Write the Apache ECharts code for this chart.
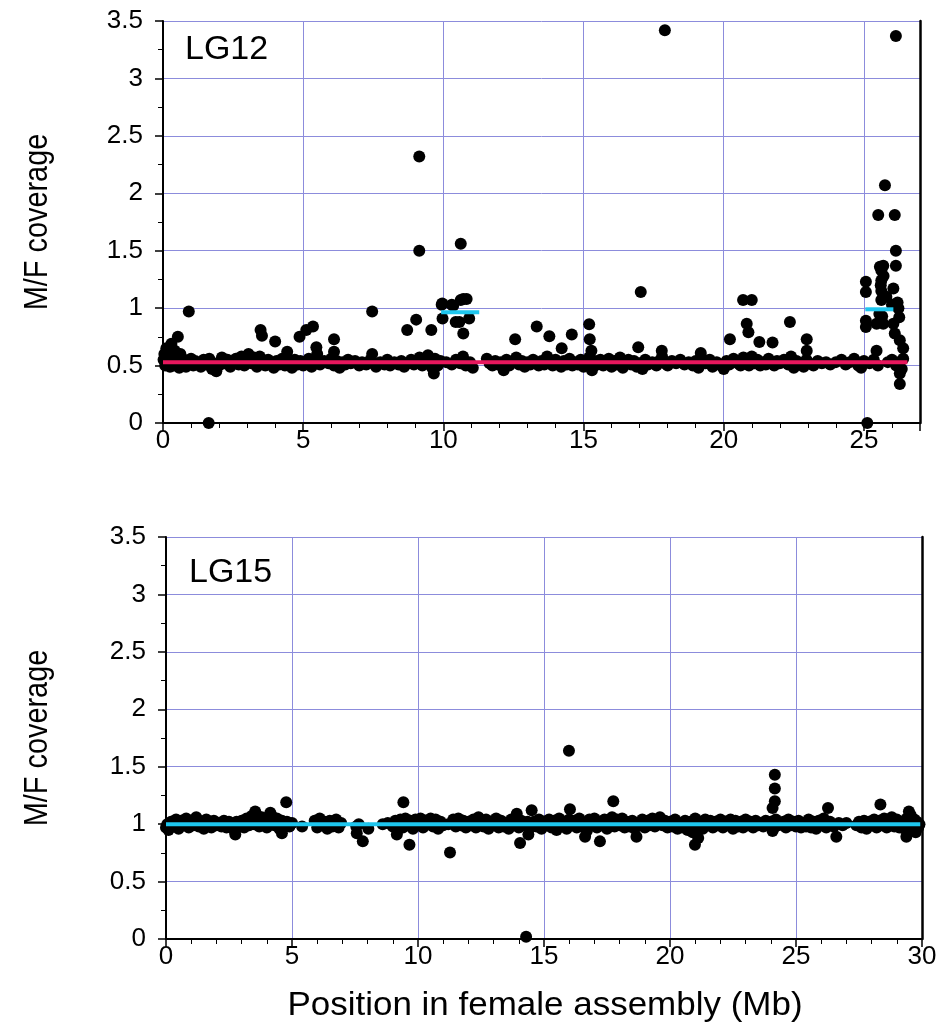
<!DOCTYPE html>
<html>
<head>
<meta charset="utf-8">
<script src="https://cdn.jsdelivr.net/npm/echarts@6/dist/echarts.min.js"></script>
<style>html,body{margin:0;padding:0;background:#fff}#c{width:947px;height:1031px}</style>
</head>
<body>
<div id="c"></div>
<script>
// ---------- DATA ----------
const yTicks = [0, 0.5, 1, 1.5, 2, 2.5, 3, 3.5];
const xTicksLG12 = [0, 5, 10, 15, 20, 25];
const xTicksLG15 = [0, 5, 10, 15, 20, 25, 30];
const panelLabels = ['LG12', 'LG15'];
const yTitle = 'M/F coverage';
const xTitle = 'Position in female assembly (Mb)';

// LG12 bulk windows (Mb, M/F)
const lg12Band = [
[0.02,0.55],[0.05,0.6],[0.08,0.5],[0.12,0.58],[0.15,0.52],[0.2,0.62],[0.25,0.49],[0.28,0.56],[0.33,0.6],[0.38,0.5],
[0.42,0.63],[0.47,0.54],[0.52,0.58],[0.58,0.48],[0.62,0.6],[0.68,0.52],[0.75,0.55],[0.82,0.49],[0.9,0.53],[1.0,0.56],
[1.08,0.5],[1.15,0.54],[1.25,0.52],[1.35,0.49],[1.45,0.55],[1.55,0.51],[1.65,0.56],[1.75,0.47],[1.8,0.52],[1.9,0.45],
[2.0,0.5],[2.1,0.57],[2.2,0.52],[2.3,0.55],[2.4,0.49],[2.5,0.53],[2.6,0.56],[2.7,0.51],[2.8,0.58],[2.9,0.5],
[3.0,0.55],[3.05,0.6],[3.15,0.52],[3.25,0.57],[3.35,0.49],[3.45,0.58],[3.55,0.53],[3.65,0.5],[3.75,0.55],[3.85,0.52],
[3.95,0.48],[4.05,0.54],[4.15,0.51],[4.25,0.56],[4.35,0.5],[4.5,0.53],[4.6,0.48],[4.7,0.55],[4.8,0.51],[4.9,0.54],
[5.0,0.5],[5.1,0.53],[5.2,0.56],[5.3,0.49],[5.4,0.52],[5.5,0.55],[5.6,0.51],[5.75,0.54],[5.9,0.52],[6.0,0.56],
[6.1,0.5],[6.2,0.54],[6.3,0.48],[6.4,0.53],[6.5,0.51],[6.6,0.55],[6.7,0.52],[6.85,0.54],[7.0,0.5],[7.1,0.53],
[7.25,0.51],[7.4,0.55],[7.5,0.52],[7.6,0.49],[7.75,0.53],[7.9,0.51],[8.0,0.55],[8.1,0.5],[8.25,0.53],[8.4,0.51],
[8.5,0.54],[8.6,0.49],[8.75,0.52],[8.85,0.55],[8.95,0.51],[9.05,0.54],[9.15,0.57],[9.25,0.5],[9.35,0.53],[9.45,0.59],
[9.55,0.52],[9.6,0.48],[9.7,0.56],[9.8,0.5],[9.9,0.54],[10.1,0.53],[10.3,0.51],[10.45,0.55],[10.6,0.52],[10.7,0.58],
[10.8,0.5],[10.95,0.53],[11.05,0.48],[11.55,0.56],[11.65,0.52],[11.75,0.5],[11.85,0.54],[11.95,0.51],[12.05,0.53],[12.15,0.46],
[12.25,0.55],[12.35,0.5],[12.5,0.53],[12.6,0.57],[12.7,0.51],[12.8,0.54],[12.9,0.49],[13.0,0.53],[13.1,0.51],[13.2,0.55],
[13.3,0.52],[13.4,0.5],[13.5,0.54],[13.6,0.51],[13.7,0.58],[13.8,0.53],[13.9,0.5],[14.0,0.55],[14.1,0.52],[14.2,0.49],
[14.3,0.54],[14.4,0.51],[14.5,0.56],[14.6,0.5],[14.7,0.53],[14.8,0.51],[14.9,0.55],[15.0,0.49],[15.1,0.52],[15.2,0.57],
[15.3,0.46],[15.4,0.54],[15.5,0.51],[15.6,0.55],[15.7,0.5],[15.8,0.53],[15.9,0.56],[16.0,0.49],[16.1,0.54],[16.2,0.51],
[16.3,0.57],[16.4,0.48],[16.5,0.53],[16.6,0.55],[16.7,0.51],[16.8,0.54],[16.9,0.49],[17.0,0.52],[17.1,0.47],[17.2,0.55],
[17.3,0.51],[17.45,0.53],[17.6,0.5],[17.7,0.54],[17.8,0.58],[17.9,0.52],[18.0,0.5],[18.15,0.54],[18.3,0.52],[18.45,0.55],
[18.6,0.51],[18.75,0.53],[18.9,0.5],[19.0,0.54],[19.1,0.48],[19.2,0.57],[19.35,0.52],[19.5,0.55],[19.6,0.49],[19.75,0.53],
[19.9,0.5],[20.0,0.47],[20.1,0.54],[20.2,0.51],[20.35,0.56],[20.5,0.52],[20.6,0.5],[20.7,0.57],[20.8,0.53],[20.9,0.5],
[21.0,0.58],[21.1,0.52],[21.2,0.55],[21.3,0.5],[21.4,0.53],[21.5,0.51],[21.6,0.56],[21.7,0.52],[21.8,0.5],[21.9,0.54],
[22.0,0.52],[22.15,0.55],[22.3,0.51],[22.4,0.58],[22.5,0.48],[22.6,0.54],[22.75,0.51],[22.85,0.49],[22.95,0.55],[23.05,0.52],
[23.2,0.5],[23.35,0.54],[23.5,0.52],[23.65,0.53],[23.8,0.51],[24.0,0.53],[24.2,0.55],[24.35,0.51],[24.5,0.53],[24.65,0.56],
[24.8,0.5],[24.9,0.48],[25.0,0.54],[25.2,0.52],[25.35,0.55],[25.5,0.5],[25.85,0.53],[26.0,0.55],[26.15,0.5],[26.25,0.53],
[26.35,0.47],[26.4,0.56]
];
// LG12 outlying windows
const lg12Out = [
[0.12,0.65],[0.3,0.69],[0.53,0.75],[0.92,0.97],[1.63,0.0],[3.48,0.81],[3.53,0.76],[4.0,0.71],[4.43,0.62],[4.87,0.75],
[5.11,0.81],[5.35,0.84],[5.47,0.66],[5.5,0.6],[6.1,0.73],[6.1,0.62],[7.46,0.97],[7.46,0.6],[8.71,0.81],[9.03,0.9],
[9.14,2.32],[9.14,1.5],[9.57,0.81],[9.66,0.43],[9.94,1.03],[9.96,1.04],[9.97,0.91],[10.3,1.03],[10.35,1.02],[10.44,0.88],
[10.57,0.88],[10.62,1.56],[10.62,1.07],[10.71,0.78],[10.71,1.08],[10.83,1.08],[10.92,0.91],[12.56,0.73],[13.33,0.84],[13.78,0.755],
[14.22,0.65],[14.58,0.77],[15.2,0.86],[15.22,0.73],[15.28,0.63],[16.95,0.66],[17.04,1.14],[17.79,0.63],[17.9,3.42],[19.18,0.61],
[20.22,0.73],[20.69,1.07],[20.82,0.865],[20.88,0.79],[21.0,1.07],[21.27,0.705],[21.74,0.7],[22.36,0.88],[22.96,0.73],[22.96,0.63],
[25.07,1.23],[25.07,1.14],[25.07,0.89],[25.07,0.835],[25.12,0.0],[25.45,0.63],[25.45,0.865],[25.51,1.81],[25.57,1.36],[25.62,1.33],
[25.62,1.24],[25.62,1.15],[25.62,1.07],[25.69,1.37],[25.69,0.865],[25.75,2.07],[26.05,1.17],[26.05,0.865],[26.1,1.81],[26.1,0.78],
[26.14,1.5],[26.14,1.37],[26.14,3.37],[26.23,1.0],[26.26,0.92],[26.28,0.72],[26.28,0.43],[26.28,0.34],[26.4,0.65],
[25.55,0.95],[25.65,0.93],[25.6,1.2],[25.7,1.28],[25.8,1.1],[26.0,1.03],[26.2,1.05]
];
// LG12 segment means
const lg12MeanLow = [[0, 0.53], [26.55, 0.53]];
const lg12MeanHighA = [[9.92, 0.965], [11.28, 0.965]];
const lg12MeanHighB = [[25.05, 0.99], [26.05, 0.99]];

// LG15 bulk windows
const lg15Band = [
[0.0,0.97],[0.05,1.0],[0.1,0.95],[0.2,1.02],[0.3,0.98],[0.4,1.04],[0.5,0.96],[0.6,1.03],[0.7,0.99],[0.8,1.05],
[0.9,0.97],[1.0,1.02],[1.1,0.99],[1.2,1.06],[1.3,0.98],[1.4,1.02],[1.5,0.96],[1.6,1.04],[1.7,1.0],[1.8,0.97],
[1.9,1.03],[2.0,0.99],[2.1,1.01],[2.2,0.98],[2.3,1.03],[2.4,0.97],[2.5,1.02],[2.6,0.99],[2.7,0.95],[2.8,1.02],
[2.9,0.98],[3.0,1.03],[3.1,0.97],[3.2,1.05],[3.3,0.99],[3.4,1.07],[3.5,1.0],[3.6,1.08],[3.7,0.98],[3.8,1.06],
[3.9,1.01],[4.0,0.97],[4.1,1.04],[4.2,1.07],[4.3,0.99],[4.4,1.05],[4.5,0.96],[4.6,1.03],[4.7,0.99],[4.8,1.02],
[4.9,0.98],[5.0,1.01],[5.4,0.98],[5.9,1.03],[6.0,0.97],[6.1,1.05],[6.2,0.99],[6.3,1.02],[6.4,0.96],[6.5,1.03],
[6.6,0.98],[6.75,1.04],[6.85,0.97],[6.95,1.01],[7.55,0.98],[7.65,1.0],[8.6,1.0],[8.8,1.01],[9.0,0.98],[9.1,1.03],
[9.2,0.95],[9.3,1.04],[9.4,0.97],[9.5,1.05],[9.6,0.99],[9.7,1.03],[9.8,0.96],[9.9,1.04],[10.0,0.99],[10.1,1.05],
[10.2,0.97],[10.3,1.03],[10.4,1.0],[10.5,1.05],[10.6,0.98],[10.7,1.04],[10.8,0.96],[10.9,1.02],[11.0,0.99],[11.2,1.0],
[11.4,1.04],[11.5,0.98],[11.6,1.05],[11.7,0.99],[11.8,1.03],[11.9,0.97],[12.0,1.02],[12.1,0.99],[12.2,1.04],[12.3,0.97],
[12.4,1.06],[12.5,1.0],[12.6,0.98],[12.7,1.04],[12.8,0.96],[12.9,1.02],[13.0,1.0],[13.1,1.05],[13.2,0.97],[13.3,1.03],
[13.4,0.98],[13.5,1.01],[13.6,0.96],[13.7,1.04],[13.8,0.99],[13.9,1.06],[14.0,0.97],[14.1,1.03],[14.2,0.99],[14.35,1.02],
[14.45,0.97],[14.6,1.02],[14.7,0.98],[14.8,1.04],[14.9,0.96],[15.0,1.02],[15.1,0.99],[15.2,1.04],[15.3,0.97],[15.4,1.03],
[15.5,0.95],[15.6,1.05],[15.7,0.99],[15.8,1.02],[15.9,0.96],[16.0,1.04],[16.1,0.99],[16.2,1.03],[16.3,0.97],[16.4,1.05],
[16.5,0.98],[16.6,1.01],[16.7,0.94],[16.8,1.04],[16.9,0.99],[17.0,1.05],[17.1,0.97],[17.2,1.02],[17.3,0.99],[17.4,1.04],
[17.5,0.96],[17.6,1.03],[17.7,1.06],[17.8,0.98],[17.9,1.04],[18.0,0.99],[18.1,1.05],[18.2,0.97],[18.3,1.02],[18.4,0.98],
[18.5,1.03],[18.6,0.96],[18.7,1.01],[18.8,0.99],[18.9,1.04],[19.0,0.97],[19.1,1.03],[19.2,0.99],[19.3,1.05],[19.4,0.98],
[19.5,1.02],[19.6,1.06],[19.7,0.99],[19.8,1.03],[19.9,0.97],[20.0,1.02],[20.1,0.98],[20.2,1.04],[20.3,0.96],[20.4,1.01],
[20.5,0.97],[20.6,1.03],[20.7,0.95],[20.8,1.02],[20.9,0.93],[21.0,1.05],[21.1,0.98],[21.2,1.02],[21.3,0.96],[21.4,1.04],
[21.5,0.99],[21.6,1.03],[21.7,0.97],[21.8,1.02],[21.9,0.99],[22.0,1.04],[22.1,0.97],[22.2,1.02],[22.3,0.99],[22.4,1.04],
[22.5,0.96],[22.6,1.03],[22.7,0.98],[22.8,1.02],[22.9,0.97],[23.0,1.04],[23.1,0.99],[23.2,1.02],[23.3,0.97],[23.4,1.03],
[23.5,0.99],[23.6,1.01],[23.7,0.98],[23.8,1.03],[23.9,0.99],[24.0,1.02],[24.1,0.96],[24.2,1.04],[24.3,0.99],[24.5,1.02],
[24.6,0.97],[24.7,1.04],[24.8,0.99],[24.9,1.02],[25.0,0.98],[25.1,1.03],[25.2,0.97],[25.3,1.01],[25.4,0.98],[25.5,1.04],
[25.6,0.97],[25.7,1.02],[25.8,0.96],[25.9,1.03],[26.0,0.99],[26.1,1.05],[26.2,0.97],[26.35,1.02],[26.5,0.98],[26.7,1.01],
[26.85,0.99],[27.0,1.01],[27.4,0.99],[27.5,1.02],[27.6,0.97],[27.7,1.03],[27.8,0.96],[27.9,1.02],[28.0,0.99],[28.1,1.04],
[28.2,0.97],[28.3,1.03],[28.4,0.99],[28.5,1.05],[28.6,0.97],[28.7,1.02],[28.8,1.06],[28.9,0.98],[29.0,1.04],[29.1,0.97],
[29.2,1.02],[29.3,0.96],[29.4,1.05],[29.5,0.99],[29.55,1.08],[29.6,0.95],[29.7,1.04],[29.75,0.93],[29.8,1.02],[29.85,0.97],
[29.9,1.0]
];
// LG15 outlying windows
const lg15Out = [
[2.75,0.91],[3.54,1.11],[4.14,1.1],[4.6,0.92],[4.77,1.19],[7.57,0.92],[7.81,0.85],[8.03,0.96],[9.16,0.91],[9.42,1.19],
[9.66,0.82],[11.27,0.754],[13.92,1.09],[14.05,0.836],[14.29,0.02],[14.38,0.91],[14.51,1.12],[15.99,1.64],[16.03,1.13],[16.63,0.89],
[17.22,0.85],[17.75,1.2],[18.67,0.89],[20.99,0.82],[21.12,0.88],[24.07,1.14],[24.07,0.94],[24.16,1.2],[24.16,1.31],[24.16,1.43],
[26.27,1.14],[26.6,0.89],[28.35,1.17],[29.38,0.89],[29.48,1.11]
];
const lg15Mean = [[0, 1.0], [29.93, 1.0]];

// ---------- CHART ----------
const FONT = "'Liberation Sans', Arial, Helvetica, sans-serif";
const GRIDCOL = '#8c8cdc';
const RED = '#e8175d';
const CYAN = '#1ec6ee';

function xAxisCfg(gi, max, ticks) {
  return {
    type: 'value', gridIndex: gi, min: 0, max: max, interval: 5,
    axisLine: { show: true, onZero: false, lineStyle: { color: '#000', width: 2 } },
    axisTick: { show: true, length: 8, lineStyle: { color: '#000', width: 1.5 } },
    minorTick: { show: true, splitNumber: 5, length: 5, lineStyle: { color: '#000', width: 1 } },
    splitLine: { show: true, lineStyle: { color: GRIDCOL, width: 1 } },
    axisLabel: {
      color: '#000', fontSize: 26, fontFamily: FONT, margin: 5, showMaxLabel: ticks[ticks.length-1] === max,
      formatter: v => (ticks.indexOf(v) >= 0 ? String(v) : '')
    }
  };
}
function yAxisCfg(gi) {
  return {
    type: 'value', gridIndex: gi, min: 0, max: 3.5, interval: 0.5,
    axisLine: { show: true, onZero: false, lineStyle: { color: '#000', width: 2 } },
    axisTick: { show: true, length: 8, lineStyle: { color: '#000', width: 1.5 } },
    minorTick: { show: true, splitNumber: 2, length: 5, lineStyle: { color: '#000', width: 1 } },
    splitLine: { show: true, lineStyle: { color: GRIDCOL, width: 1 } },
    axisLabel: {
      color: '#000', fontSize: 26, fontFamily: FONT, margin: 20,
      formatter: v => (yTicks.indexOf(v) >= 0 ? String(v) : '')
    }
  };
}
function yRightCfg(gi) {
  return {
    type: 'value', gridIndex: gi, min: 0, max: 3.5, position: 'right',
    axisLine: { show: true, onZero: false, lineStyle: { color: '#000', width: 2.5 } },
    axisTick: { show: false }, axisLabel: { show: false }, splitLine: { show: false }
  };
}
function scatter(xi, yi, data) {
  return { type: 'scatter', xAxisIndex: xi, yAxisIndex: yi, data: data, symbol: 'circle', symbolSize: 12,
    itemStyle: { color: '#000', opacity: 1 }, z: 2, silent: true };
}
function seg(xi, yi, data, color) {
  return { type: 'line', xAxisIndex: xi, yAxisIndex: yi, data: data, showSymbol: false, symbol: 'none',
    lineStyle: { color: color, width: 4 }, z: 5, silent: true };
}

const chart = echarts.init(document.getElementById('c'), null, { renderer: 'canvas' });
chart.setOption({
  animation: false,
  backgroundColor: '#fff',
  grid: [
    { left: 163, top: 21, width: 757, height: 402 },
    { left: 166, top: 537, width: 756, height: 402 }
  ],
  xAxis: [ xAxisCfg(0, 27, xTicksLG12), xAxisCfg(1, 30, xTicksLG15) ],
  yAxis: [ yAxisCfg(0), yAxisCfg(1), yRightCfg(0), yRightCfg(1) ],
  series: [
    scatter(0, 0, lg12Band), scatter(0, 0, lg12Out),
    seg(0, 0, lg12MeanLow, RED), seg(0, 0, lg12MeanHighA, CYAN), seg(0, 0, lg12MeanHighB, CYAN),
    scatter(1, 1, lg15Band), scatter(1, 1, lg15Out),
    seg(1, 1, lg15Mean, CYAN)
  ],
  graphic: [
    { type: 'text', x: 185, y: 50, style: { text: panelLabels[0], fontSize: 34, fontFamily: FONT, fill: '#000', align: 'left', verticalAlign: 'middle' } },
    { type: 'text', x: 189, y: 573, style: { text: panelLabels[1], fontSize: 34, fontFamily: FONT, fill: '#000', align: 'left', verticalAlign: 'middle' } },
    { type: 'text', x: 38, y: 222, rotation: Math.PI / 2, scaleX: 0.85, style: { text: yTitle, fontSize: 34, fontFamily: FONT, fill: '#000', align: 'center', verticalAlign: 'middle' } },
    { type: 'text', x: 38, y: 738, rotation: Math.PI / 2, scaleX: 0.85, style: { text: yTitle, fontSize: 34, fontFamily: FONT, fill: '#000', align: 'center', verticalAlign: 'middle' } },
    { type: 'text', x: 545, y: 1006, scaleX: 1.06, style: { text: xTitle, fontSize: 33, fontFamily: FONT, fill: '#000', align: 'center', verticalAlign: 'middle' } }
  ]
});
</script>
</body>
</html>
